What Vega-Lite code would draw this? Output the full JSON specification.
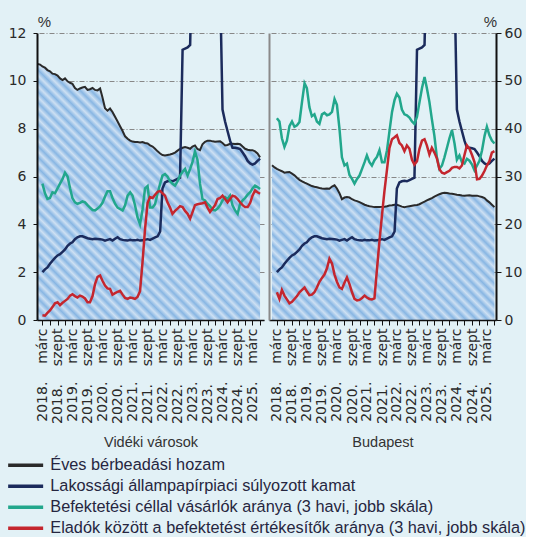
{
"$schema": "https://vega.github.io/schema/vega-lite/v6.json",
"background": "#e2f1f6",
"padding": {"left": 8, "top": 14, "right": 0, "bottom": 0},
"spacing": 0,
"config": {
  "font": "Liberation Sans",
  "view": {"stroke": null},
  "axis": {"labelColor": "#2a2a2a", "titleColor": "#333", "titleFontWeight": "normal", "tickColor": "#111", "domainColor": "#111"},
  "legend": {"labelFont": "Liberation Sans", "labelFontSize": 16.3, "labelColor": "#262640", "labelLimit": 600, "rowPadding": 4, "symbolSize": 100, "symbolStrokeWidth": 3.5, "labelOffset": 16.5, "padding": 0}
},
"datasets": {
"vid": [
{"d":"2018-01","h":10.7},{"d":"2018-02","h":10.68},
{"d":"2018-03","h":10.6,"k":2.0,"b":28.5,"e":1.0},
{"d":"2018-04","h":10.55,"k":2.12,"b":26.5,"e":0.9},
{"d":"2018-05","h":10.45,"k":2.2,"b":25.3,"e":1.5},
{"d":"2018-06","h":10.4,"k":2.35,"b":25.5,"e":2.0},
{"d":"2018-07","h":10.3,"k":2.48,"b":26.7,"e":2.7},
{"d":"2018-08","h":10.28,"k":2.6,"b":26.5,"e":3.5},
{"d":"2018-09","h":10.22,"k":2.7,"b":27.5,"e":3.7},
{"d":"2018-10","h":10.1,"k":2.75,"b":28.5,"e":3.1},
{"d":"2018-11","h":10.03,"k":2.85,"b":29.5,"e":3.6},
{"d":"2018-12","h":10.1,"k":2.95,"b":30.8,"e":4.0},
{"d":"2019-01","h":9.98,"k":3.1,"b":30,"e":4.4},
{"d":"2019-02","h":9.92,"k":3.2,"b":27.5,"e":5.1},
{"d":"2019-03","h":9.88,"k":3.25,"b":25.5,"e":5.4},
{"d":"2019-04","h":9.7,"k":3.38,"b":24.6,"e":5.0},
{"d":"2019-05","h":9.62,"k":3.46,"b":24.3,"e":4.7},
{"d":"2019-06","h":9.68,"k":3.5,"b":24.5,"e":5.1},
{"d":"2019-07","h":9.72,"k":3.5,"b":24.8,"e":4.9},
{"d":"2019-08","h":9.75,"k":3.46,"b":24.6,"e":4.5},
{"d":"2019-09","h":9.62,"k":3.42,"b":24,"e":3.7},
{"d":"2019-10","h":9.65,"k":3.4,"b":23.5,"e":3.7},
{"d":"2019-11","h":9.7,"k":3.38,"b":23,"e":5.0},
{"d":"2019-12","h":9.62,"k":3.4,"b":22.9,"e":7.5},
{"d":"2020-01","h":9.6,"k":3.39,"b":23.3,"e":9.0},
{"d":"2020-02","h":9.68,"k":3.38,"b":23.8,"e":9.3},
{"d":"2020-03","h":9.3,"k":3.36,"b":24.5,"e":8.2},
{"d":"2020-04","h":8.85,"k":3.32,"b":25.8,"e":7.2},
{"d":"2020-05","h":8.75,"k":3.35,"b":26.9,"e":6.6},
{"d":"2020-06","h":8.84,"k":3.38,"b":26.9,"e":6.5},
{"d":"2020-07","h":8.7,"k":3.32,"b":25.5,"e":5.3},
{"d":"2020-08","h":8.5,"k":3.4,"b":24.3,"e":5.6},
{"d":"2020-09","h":8.3,"k":3.46,"b":23.5,"e":5.9},
{"d":"2020-10","h":8.1,"k":3.38,"b":23.2,"e":6.1},
{"d":"2020-11","h":7.9,"k":3.35,"b":22.9,"e":5.3},
{"d":"2020-12","h":7.68,"k":3.33,"b":24,"e":4.6},
{"d":"2021-01","h":7.58,"k":3.32,"b":26,"e":4.4},
{"d":"2021-02","h":7.5,"k":3.35,"b":26.7,"e":4.7},
{"d":"2021-03","h":7.46,"k":3.33,"b":26,"e":4.6},
{"d":"2021-04","h":7.44,"k":3.33,"b":24,"e":4.4},
{"d":"2021-05","h":7.44,"k":3.35,"b":21.5,"e":4.8},
{"d":"2021-06","h":7.42,"k":3.32,"b":20,"e":6.0},
{"d":"2021-07","h":7.44,"k":3.33,"b":23,"e":12.0},
{"d":"2021-08","h":7.4,"k":3.36,"b":27.5,"e":19.0},
{"d":"2021-09","h":7.38,"k":3.38,"b":28,"e":24.5},
{"d":"2021-10","h":7.3,"k":3.35,"b":23.5,"e":25.7},
{"d":"2021-11","h":7.25,"k":3.4,"b":23.5,"e":25.5},
{"d":"2021-12","h":7.16,"k":3.45,"b":24.2,"e":26.2},
{"d":"2022-01","h":7.05,"k":3.5,"b":26.5,"e":26.8},
{"d":"2022-02","h":6.96,"k":3.7,"b":28.5,"e":27},
{"d":"2022-03","h":6.9,"k":5.5,"b":30.2,"e":26.5},
{"d":"2022-04","h":6.88,"k":5.75,"b":30.5,"e":26},
{"d":"2022-05","h":6.9,"k":5.8,"b":30,"e":24.6},
{"d":"2022-06","h":6.92,"k":5.82,"b":29,"e":23.5},
{"d":"2022-07","h":6.95,"k":5.8,"b":28.5,"e":22.2},
{"d":"2022-08","h":7.0,"k":5.85,"b":28.1,"e":22.8},
{"d":"2022-09","h":7.08,"k":5.9,"b":29,"e":23.3},
{"d":"2022-10","h":7.15,"k":5.95,"b":30.2,"e":23.8},
{"d":"2022-11","h":7.2,"k":11.3,"b":31,"e":23.6},
{"d":"2022-12","h":7.23,"k":11.35,"b":31.6,"e":22.8},
{"d":"2023-01","h":7.2,"k":11.4,"b":30.2,"e":22.2},
{"d":"2023-02","h":7.16,"k":11.5,"b":31.6,"e":21.2},
{"d":"2023-03","h":7.25,"k":16,"b":33,"e":22.5},
{"d":"2023-04","h":7.3,"k":17,"b":35.2,"e":24},
{"d":"2023-05","h":7.15,"k":18,"b":33.5,"e":24.2},
{"d":"2023-06","h":7.1,"k":19,"b":28.5,"e":24.3},
{"d":"2023-07","h":7.35,"k":19.5,"b":25.3,"e":24.4},
{"d":"2023-08","h":7.45,"k":19,"b":25,"e":24.6},
{"d":"2023-09","h":7.5,"k":18.5,"b":24.3,"e":23.5},
{"d":"2023-10","h":7.5,"k":18,"b":23.8,"e":22.6},
{"d":"2023-11","h":7.47,"k":17,"b":23,"e":23.3},
{"d":"2023-12","h":7.45,"k":16,"b":22.9,"e":24},
{"d":"2024-01","h":7.46,"k":15,"b":23.3,"e":25.3},
{"d":"2024-02","h":7.47,"k":14,"b":24,"e":25.5},
{"d":"2024-03","h":7.4,"k":8.8,"b":25,"e":26},
{"d":"2024-04","h":7.3,"k":8.3,"b":25.7,"e":25.3},
{"d":"2024-05","h":7.32,"k":7.9,"b":25.3,"e":24.6},
{"d":"2024-06","h":7.37,"k":7.5,"b":26,"e":25.3},
{"d":"2024-07","h":7.37,"k":7.2,"b":24,"e":26},
{"d":"2024-08","h":7.36,"k":7.2,"b":22.9,"e":25.8},
{"d":"2024-09","h":7.37,"k":7.18,"b":22.2,"e":25.3},
{"d":"2024-10","h":7.35,"k":7.15,"b":24.3,"e":24.6},
{"d":"2024-11","h":7.25,"k":7.0,"b":25,"e":24},
{"d":"2024-12","h":7.16,"k":6.85,"b":25.5,"e":23.6},
{"d":"2025-01","h":7.12,"k":6.65,"b":26.2,"e":23.6},
{"d":"2025-02","h":7.1,"k":6.55,"b":26.7,"e":24.5},
{"d":"2025-03","h":7.1,"k":6.5,"b":27.5,"e":26},
{"d":"2025-04","h":7.05,"k":6.55,"b":28.1,"e":27.1},
{"d":"2025-05","h":6.96,"k":6.65,"b":27.8,"e":26.7},
{"d":"2025-06","h":6.8,"k":6.75,"b":27.4,"e":26.4}
],
"bud": [
{"d":"2018-01","h":6.47},{"d":"2018-02","h":6.38},
{"d":"2018-03","h":6.32,"k":2.0,"b":42.2,"e":5.8},
{"d":"2018-04","h":6.27,"k":2.12,"b":41.5,"e":4.4},
{"d":"2018-05","h":6.22,"k":2.2,"b":38,"e":6.3},
{"d":"2018-06","h":6.16,"k":2.35,"b":36.2,"e":5.1},
{"d":"2018-07","h":6.18,"k":2.48,"b":37.5,"e":4.3},
{"d":"2018-08","h":6.19,"k":2.6,"b":40.5,"e":3.5},
{"d":"2018-09","h":6.12,"k":2.7,"b":41.5,"e":3.8},
{"d":"2018-10","h":6.05,"k":2.75,"b":40.4,"e":4.4},
{"d":"2018-11","h":5.95,"k":2.85,"b":40.7,"e":5.0},
{"d":"2018-12","h":5.86,"k":2.95,"b":41.4,"e":5.8},
{"d":"2019-01","h":5.8,"k":3.1,"b":45.6,"e":6.3},
{"d":"2019-02","h":5.74,"k":3.2,"b":49.5,"e":6.8},
{"d":"2019-03","h":5.7,"k":3.25,"b":48.5,"e":6.0},
{"d":"2019-04","h":5.65,"k":3.38,"b":44.5,"e":5.2},
{"d":"2019-05","h":5.6,"k":3.46,"b":42.6,"e":5.3},
{"d":"2019-06","h":5.57,"k":3.5,"b":43,"e":5.8},
{"d":"2019-07","h":5.55,"k":3.5,"b":41.5,"e":6.8},
{"d":"2019-08","h":5.52,"k":3.46,"b":41,"e":8.0},
{"d":"2019-09","h":5.5,"k":3.42,"b":43,"e":8.8},
{"d":"2019-10","h":5.49,"k":3.4,"b":43.3,"e":9.5},
{"d":"2019-11","h":5.5,"k":3.38,"b":42.8,"e":10.8},
{"d":"2019-12","h":5.49,"k":3.4,"b":43,"e":12.8},
{"d":"2020-01","h":5.58,"k":3.39,"b":43.5,"e":11.8},
{"d":"2020-02","h":5.63,"k":3.38,"b":46.2,"e":9.5},
{"d":"2020-03","h":5.5,"k":3.36,"b":45,"e":8.0},
{"d":"2020-04","h":5.3,"k":3.32,"b":40,"e":6.8},
{"d":"2020-05","h":5.05,"k":3.35,"b":34,"e":6.5},
{"d":"2020-06","h":5.12,"k":3.38,"b":32.3,"e":7.8},
{"d":"2020-07","h":5.14,"k":3.32,"b":32.7,"e":8.9},
{"d":"2020-08","h":5.12,"k":3.4,"b":30.3,"e":7.5},
{"d":"2020-09","h":5.05,"k":3.46,"b":29.5,"e":5.8},
{"d":"2020-10","h":5.0,"k":3.38,"b":28.5,"e":4.4},
{"d":"2020-11","h":4.97,"k":3.35,"b":29.5,"e":4.1},
{"d":"2020-12","h":4.93,"k":3.33,"b":30.2,"e":4.2},
{"d":"2021-01","h":4.88,"k":3.32,"b":31.6,"e":4.6},
{"d":"2021-02","h":4.82,"k":3.35,"b":33,"e":5.1},
{"d":"2021-03","h":4.79,"k":3.33,"b":34.4,"e":4.7},
{"d":"2021-04","h":4.76,"k":3.33,"b":33,"e":4.4},
{"d":"2021-05","h":4.74,"k":3.35,"b":32.3,"e":4.3},
{"d":"2021-06","h":4.72,"k":3.32,"b":33.4,"e":4.5},
{"d":"2021-07","h":4.72,"k":3.33,"b":34.1,"e":10.5},
{"d":"2021-08","h":4.72,"k":3.36,"b":35.5,"e":16.5},
{"d":"2021-09","h":4.73,"k":3.38,"b":33,"e":22},
{"d":"2021-10","h":4.74,"k":3.35,"b":33,"e":27},
{"d":"2021-11","h":4.76,"k":3.4,"b":35.5,"e":31.5},
{"d":"2021-12","h":4.79,"k":3.45,"b":39.5,"e":36},
{"d":"2022-01","h":4.8,"k":3.5,"b":43.5,"e":37.8},
{"d":"2022-02","h":4.82,"k":3.7,"b":46,"e":38.2},
{"d":"2022-03","h":4.82,"k":5.5,"b":47.3,"e":38.6},
{"d":"2022-04","h":4.78,"k":5.75,"b":46.5,"e":37},
{"d":"2022-05","h":4.74,"k":5.8,"b":44,"e":36.5},
{"d":"2022-06","h":4.72,"k":5.82,"b":43,"e":35.3},
{"d":"2022-07","h":4.74,"k":5.8,"b":42.8,"e":36.5},
{"d":"2022-08","h":4.76,"k":5.85,"b":42.3,"e":35.8},
{"d":"2022-09","h":4.78,"k":5.9,"b":41.5,"e":33.5},
{"d":"2022-10","h":4.8,"k":5.95,"b":41,"e":32.5},
{"d":"2022-11","h":4.81,"k":11.3,"b":42.5,"e":33.2},
{"d":"2022-12","h":4.84,"k":11.35,"b":45.5,"e":35.8},
{"d":"2023-01","h":4.9,"k":11.4,"b":48.5,"e":37.5},
{"d":"2023-02","h":4.95,"k":11.5,"b":50.8,"e":37.8},
{"d":"2023-03","h":5.0,"k":16,"b":48.5,"e":36.5},
{"d":"2023-04","h":5.05,"k":17,"b":45.6,"e":34.6},
{"d":"2023-05","h":5.1,"k":18,"b":42,"e":36},
{"d":"2023-06","h":5.16,"k":19,"b":38.5,"e":35},
{"d":"2023-07","h":5.21,"k":19.5,"b":34,"e":33.8},
{"d":"2023-08","h":5.26,"k":19,"b":31.6,"e":31.5},
{"d":"2023-09","h":5.3,"k":18.5,"b":32.3,"e":30.8},
{"d":"2023-10","h":5.32,"k":18,"b":34,"e":30.6},
{"d":"2023-11","h":5.31,"k":17,"b":36,"e":30.9},
{"d":"2023-12","h":5.29,"k":16,"b":38,"e":31.2},
{"d":"2024-01","h":5.28,"k":15,"b":39.7,"e":31.8},
{"d":"2024-02","h":5.26,"k":14,"b":36.9,"e":32},
{"d":"2024-03","h":5.24,"k":8.8,"b":33.5,"e":32},
{"d":"2024-04","h":5.23,"k":8.3,"b":34.4,"e":31.7},
{"d":"2024-05","h":5.21,"k":7.9,"b":33,"e":32.3},
{"d":"2024-06","h":5.2,"k":7.5,"b":32.7,"e":34.5},
{"d":"2024-07","h":5.21,"k":7.2,"b":33.7,"e":36.5},
{"d":"2024-08","h":5.22,"k":7.2,"b":33.3,"e":35.8},
{"d":"2024-09","h":5.2,"k":7.18,"b":32.5,"e":34.5},
{"d":"2024-10","h":5.2,"k":7.15,"b":31.3,"e":33},
{"d":"2024-11","h":5.2,"k":7.0,"b":32.3,"e":29.4},
{"d":"2024-12","h":5.17,"k":6.85,"b":33.3,"e":29.5},
{"d":"2025-01","h":5.14,"k":6.65,"b":35.5,"e":30.2},
{"d":"2025-02","h":5.1,"k":6.55,"b":38.5,"e":31.2},
{"d":"2025-03","h":5.0,"k":6.5,"b":40.4,"e":32.3},
{"d":"2025-04","h":4.92,"k":6.55,"b":38.6,"e":33.2},
{"d":"2025-05","h":4.82,"k":6.65,"b":37.5,"e":35},
{"d":"2025-06","h":4.72,"k":6.75,"b":36.9,"e":35.3}
]
},
"hconcat": [
{
  "width": 227, "height": 287,
  "data": {"name": "vid"},
  "encoding": {"x": {"field": "d", "type": "temporal",
    "scale": {"type": "utc", "domain": [{"year":2017,"month":12,"date":25,"utc":true},{"year":2025,"month":7,"date":19,"utc":true}]},
    "axis": {"values": [{"year":2018,"month":3,"date":1,"utc":true},{"year":2018,"month":6,"date":1,"utc":true},{"year":2018,"month":9,"date":1,"utc":true},{"year":2018,"month":12,"date":1,"utc":true},{"year":2019,"month":3,"date":1,"utc":true},{"year":2019,"month":6,"date":1,"utc":true},{"year":2019,"month":9,"date":1,"utc":true},{"year":2019,"month":12,"date":1,"utc":true},{"year":2020,"month":3,"date":1,"utc":true},{"year":2020,"month":6,"date":1,"utc":true},{"year":2020,"month":9,"date":1,"utc":true},{"year":2020,"month":12,"date":1,"utc":true},{"year":2021,"month":3,"date":1,"utc":true},{"year":2021,"month":6,"date":1,"utc":true},{"year":2021,"month":9,"date":1,"utc":true},{"year":2021,"month":12,"date":1,"utc":true},{"year":2022,"month":3,"date":1,"utc":true},{"year":2022,"month":6,"date":1,"utc":true},{"year":2022,"month":9,"date":1,"utc":true},{"year":2022,"month":12,"date":1,"utc":true},{"year":2023,"month":3,"date":1,"utc":true},{"year":2023,"month":6,"date":1,"utc":true},{"year":2023,"month":9,"date":1,"utc":true},{"year":2023,"month":12,"date":1,"utc":true},{"year":2024,"month":3,"date":1,"utc":true},{"year":2024,"month":6,"date":1,"utc":true},{"year":2024,"month":9,"date":1,"utc":true},{"year":2024,"month":12,"date":1,"utc":true},{"year":2025,"month":3,"date":1,"utc":true},{"year":2025,"month":6,"date":1,"utc":true}],
      "labelExpr": "utcFormat(datum.value,'%m')=='03' ? utcFormat(datum.value,'%Y')+'.\u00a0\u00a0\u00a0\u00a0márc' : (utcFormat(datum.value,'%m')=='09' ? utcFormat(datum.value,'%Y')+'.\u00a0\u00a0\u00a0\u00a0szept' : '')",
      "labelAngle": 270, "labelFont": "DejaVu Sans", "labelFontSize": 14, "labelPadding": 3, "labelOverlap": false, "labelFlush": false, "labelBound": false,
      "tickSize": 5, "domainWidth": 1.5, "grid": false,
      "title": "Vidéki városok", "titlePadding": 12, "titleFontSize": 14.5, "zindex": 1}}},
  "layer": [
      {"mark": {"type": "area", "opacity": 1, "color": {"gradient": "linear", "x1": 0, "y1": 1, "x2": 0.927, "y2": -0.064, "stops": [
{"offset":0,"color":"#88b6e3"},{"offset":0.0114,"color":"#cde0f3"},{"offset":0.0227,"color":"#88b6e3"},{"offset":0.0341,"color":"#cde0f3"},{"offset":0.0455,"color":"#88b6e3"},{"offset":0.0568,"color":"#cde0f3"},{"offset":0.0682,"color":"#88b6e3"},{"offset":0.0795,"color":"#cde0f3"},{"offset":0.0909,"color":"#88b6e3"},{"offset":0.1023,"color":"#cde0f3"},{"offset":0.1136,"color":"#88b6e3"},{"offset":0.125,"color":"#cde0f3"},{"offset":0.1364,"color":"#88b6e3"},{"offset":0.1477,"color":"#cde0f3"},{"offset":0.1591,"color":"#88b6e3"},{"offset":0.1705,"color":"#cde0f3"},{"offset":0.1818,"color":"#88b6e3"},{"offset":0.1932,"color":"#cde0f3"},{"offset":0.2045,"color":"#88b6e3"},{"offset":0.2159,"color":"#cde0f3"},{"offset":0.2273,"color":"#88b6e3"},{"offset":0.2386,"color":"#cde0f3"},{"offset":0.25,"color":"#88b6e3"},{"offset":0.2614,"color":"#cde0f3"},{"offset":0.2727,"color":"#88b6e3"},{"offset":0.2841,"color":"#cde0f3"},{"offset":0.2955,"color":"#88b6e3"},{"offset":0.3068,"color":"#cde0f3"},{"offset":0.3182,"color":"#88b6e3"},{"offset":0.3295,"color":"#cde0f3"},{"offset":0.3409,"color":"#88b6e3"},{"offset":0.3523,"color":"#cde0f3"},{"offset":0.3636,"color":"#88b6e3"},{"offset":0.375,"color":"#cde0f3"},{"offset":0.3864,"color":"#88b6e3"},{"offset":0.3977,"color":"#cde0f3"},{"offset":0.4091,"color":"#88b6e3"},{"offset":0.4205,"color":"#cde0f3"},{"offset":0.4318,"color":"#88b6e3"},{"offset":0.4432,"color":"#cde0f3"},{"offset":0.4545,"color":"#88b6e3"},{"offset":0.4659,"color":"#cde0f3"},{"offset":0.4773,"color":"#88b6e3"},{"offset":0.4886,"color":"#cde0f3"},{"offset":0.5,"color":"#88b6e3"},{"offset":0.5114,"color":"#cde0f3"},{"offset":0.5227,"color":"#88b6e3"},{"offset":0.5341,"color":"#cde0f3"},{"offset":0.5455,"color":"#88b6e3"},{"offset":0.5568,"color":"#cde0f3"},{"offset":0.5682,"color":"#88b6e3"},{"offset":0.5795,"color":"#cde0f3"},{"offset":0.5909,"color":"#88b6e3"},{"offset":0.6023,"color":"#cde0f3"},{"offset":0.6136,"color":"#88b6e3"},{"offset":0.625,"color":"#cde0f3"},{"offset":0.6364,"color":"#88b6e3"},{"offset":0.6477,"color":"#cde0f3"},{"offset":0.6591,"color":"#88b6e3"},{"offset":0.6705,"color":"#cde0f3"},{"offset":0.6818,"color":"#88b6e3"},{"offset":0.6932,"color":"#cde0f3"},{"offset":0.7045,"color":"#88b6e3"},{"offset":0.7159,"color":"#cde0f3"},{"offset":0.7273,"color":"#88b6e3"},{"offset":0.7386,"color":"#cde0f3"},{"offset":0.75,"color":"#88b6e3"},{"offset":0.7614,"color":"#cde0f3"},{"offset":0.7727,"color":"#88b6e3"},{"offset":0.7841,"color":"#cde0f3"},{"offset":0.7955,"color":"#88b6e3"},{"offset":0.8068,"color":"#cde0f3"},{"offset":0.8182,"color":"#88b6e3"},{"offset":0.8295,"color":"#cde0f3"},{"offset":0.8409,"color":"#88b6e3"},{"offset":0.8523,"color":"#cde0f3"},{"offset":0.8636,"color":"#88b6e3"},{"offset":0.875,"color":"#cde0f3"},{"offset":0.8864,"color":"#88b6e3"},{"offset":0.8977,"color":"#cde0f3"},{"offset":0.9091,"color":"#88b6e3"},{"offset":0.9205,"color":"#cde0f3"},{"offset":0.9318,"color":"#88b6e3"},{"offset":0.9432,"color":"#cde0f3"},{"offset":0.9545,"color":"#88b6e3"},{"offset":0.9659,"color":"#cde0f3"},{"offset":0.9773,"color":"#88b6e3"},{"offset":0.9886,"color":"#cde0f3"},{"offset":1,"color":"#88b6e3"}]}},
       "encoding": {"y": {"field": "h", "type": "quantitative", "scale": {"domain": [0, 12], "nice": false},
         "axis": {"orient": "left", "values": [0,2,4,6,8,10,12], "title": "%", "titleAngle": 0, "titleX": 7, "titleY": -7, "titleAlign": "center", "titleBaseline": "alphabetic", "titleFontSize": 15,
           "grid": false, "domainWidth": 2, "tickSize": 4, "labelPadding": 7, "labelFont": "DejaVu Sans", "labelFontSize": 14, "zindex": 1}}}},
      {"mark": {"type": "line", "strokeWidth": 2},
       "encoding": {"y": {"field": "h", "type": "quantitative", "scale": {"domain": [0, 12], "nice": false}, "axis": null},
         "color": {"datum": "Éves bérbeadási hozam", "type": "nominal",
           "scale": {"domain": ["Éves bérbeadási hozam", "Lakossági állampapírpiaci súlyozott kamat", "Befektetési céllal vásárlók aránya (3 havi, jobb skála)", "Eladók között a befektetést értékesítők aránya (3 havi, jobb skála)"], "range": ["#2a2a2a", "#1b2b5c", "#22a78c", "#c4262e"]},
           "legend": {"title": null, "orient": "none", "legendX": -19.5, "legendY": 424, "direction": "vertical",
             "encode": {"symbols": {"update": {
               "shape": {"condition": {"test": "datum.index === 0", "value": "M-3.5,-0.9H3.5V0.9H-3.5Z"}, "value": "M-3.5,0H3.5"},
               "fill": {"condition": {"test": "datum.index === 0", "value": "#b9d3ee"}, "value": "transparent"},
               "strokeWidth": {"condition": {"test": "datum.index === 0", "value": 2}, "value": 3.5}}}}}}}},
      {"mark": {"type": "line", "strokeWidth": 2.5, "clip": true},
       "encoding": {"y": {"field": "k", "type": "quantitative", "scale": {"domain": [0, 12], "nice": false}, "axis": null},
         "color": {"datum": "Lakossági állampapírpiaci súlyozott kamat", "type": "nominal"}}},
      {"mark": {"type": "line", "strokeWidth": 2.5},
       "encoding": {"y": {"field": "b", "type": "quantitative", "scale": {"domain": [0, 60], "nice": false},
         "axis": {"orient": "right", "values": [0,10,20,30,40,50,60], "labels": false, "ticks": false, "domain": false, "title": null,
           "grid": true, "gridColor": "#888", "gridDash": [5,2,1,2], "gridWidth": 1, "zindex": 0}},
         "color": {"datum": "Befektetési céllal vásárlók aránya (3 havi, jobb skála)", "type": "nominal"}}},
      {"mark": {"type": "line", "strokeWidth": 2.5},
       "encoding": {"y": {"field": "e", "type": "quantitative", "scale": {"domain": [0, 60], "nice": false}, "axis": null},
         "color": {"datum": "Eladók között a befektetést értékesítők aránya (3 havi, jobb skála)", "type": "nominal"}}}
  ],
  "resolve": {"scale": {"y": "independent"}, "axis": {"y": "independent"}}
},
{
  "width": 227, "height": 287,
  "data": {"name": "bud"},
  "encoding": {"x": {"field": "d", "type": "temporal",
    "scale": {"type": "utc", "domain": [{"year":2017,"month":11,"date":25,"utc":true},{"year":2025,"month":6,"date":20,"utc":true}]},
    "axis": {"values": [{"year":2018,"month":3,"date":1,"utc":true},{"year":2018,"month":6,"date":1,"utc":true},{"year":2018,"month":9,"date":1,"utc":true},{"year":2018,"month":12,"date":1,"utc":true},{"year":2019,"month":3,"date":1,"utc":true},{"year":2019,"month":6,"date":1,"utc":true},{"year":2019,"month":9,"date":1,"utc":true},{"year":2019,"month":12,"date":1,"utc":true},{"year":2020,"month":3,"date":1,"utc":true},{"year":2020,"month":6,"date":1,"utc":true},{"year":2020,"month":9,"date":1,"utc":true},{"year":2020,"month":12,"date":1,"utc":true},{"year":2021,"month":3,"date":1,"utc":true},{"year":2021,"month":6,"date":1,"utc":true},{"year":2021,"month":9,"date":1,"utc":true},{"year":2021,"month":12,"date":1,"utc":true},{"year":2022,"month":3,"date":1,"utc":true},{"year":2022,"month":6,"date":1,"utc":true},{"year":2022,"month":9,"date":1,"utc":true},{"year":2022,"month":12,"date":1,"utc":true},{"year":2023,"month":3,"date":1,"utc":true},{"year":2023,"month":6,"date":1,"utc":true},{"year":2023,"month":9,"date":1,"utc":true},{"year":2023,"month":12,"date":1,"utc":true},{"year":2024,"month":3,"date":1,"utc":true},{"year":2024,"month":6,"date":1,"utc":true},{"year":2024,"month":9,"date":1,"utc":true},{"year":2024,"month":12,"date":1,"utc":true},{"year":2025,"month":3,"date":1,"utc":true},{"year":2025,"month":6,"date":1,"utc":true}],
      "labelExpr": "utcFormat(datum.value,'%m')=='03' ? utcFormat(datum.value,'%Y')+'.\u00a0\u00a0\u00a0\u00a0márc' : (utcFormat(datum.value,'%m')=='09' ? utcFormat(datum.value,'%Y')+'.\u00a0\u00a0\u00a0\u00a0szept' : '')",
      "labelAngle": 270, "labelFont": "DejaVu Sans", "labelFontSize": 14, "labelPadding": 3, "labelOverlap": false, "labelFlush": false, "labelBound": false,
      "tickSize": 5, "domainWidth": 1.5, "grid": false,
      "title": "Budapest", "titlePadding": 12, "titleFontSize": 14.5, "zindex": 1}}},
  "layer": [
      {"mark": {"type": "area", "opacity": 1, "color": {"gradient": "linear", "x1": 0, "y1": 1, "x2": 1.143, "y2": 0.204, "stops": [
{"offset":0,"color":"#88b6e3"},{"offset":0.0143,"color":"#cde0f3"},{"offset":0.0286,"color":"#88b6e3"},{"offset":0.0429,"color":"#cde0f3"},{"offset":0.0571,"color":"#88b6e3"},{"offset":0.0714,"color":"#cde0f3"},{"offset":0.0857,"color":"#88b6e3"},{"offset":0.1,"color":"#cde0f3"},{"offset":0.1143,"color":"#88b6e3"},{"offset":0.1286,"color":"#cde0f3"},{"offset":0.1429,"color":"#88b6e3"},{"offset":0.1571,"color":"#cde0f3"},{"offset":0.1714,"color":"#88b6e3"},{"offset":0.1857,"color":"#cde0f3"},{"offset":0.2,"color":"#88b6e3"},{"offset":0.2143,"color":"#cde0f3"},{"offset":0.2286,"color":"#88b6e3"},{"offset":0.2429,"color":"#cde0f3"},{"offset":0.2571,"color":"#88b6e3"},{"offset":0.2714,"color":"#cde0f3"},{"offset":0.2857,"color":"#88b6e3"},{"offset":0.3,"color":"#cde0f3"},{"offset":0.3143,"color":"#88b6e3"},{"offset":0.3286,"color":"#cde0f3"},{"offset":0.3429,"color":"#88b6e3"},{"offset":0.3571,"color":"#cde0f3"},{"offset":0.3714,"color":"#88b6e3"},{"offset":0.3857,"color":"#cde0f3"},{"offset":0.4,"color":"#88b6e3"},{"offset":0.4143,"color":"#cde0f3"},{"offset":0.4286,"color":"#88b6e3"},{"offset":0.4429,"color":"#cde0f3"},{"offset":0.4571,"color":"#88b6e3"},{"offset":0.4714,"color":"#cde0f3"},{"offset":0.4857,"color":"#88b6e3"},{"offset":0.5,"color":"#cde0f3"},{"offset":0.5143,"color":"#88b6e3"},{"offset":0.5286,"color":"#cde0f3"},{"offset":0.5429,"color":"#88b6e3"},{"offset":0.5571,"color":"#cde0f3"},{"offset":0.5714,"color":"#88b6e3"},{"offset":0.5857,"color":"#cde0f3"},{"offset":0.6,"color":"#88b6e3"},{"offset":0.6143,"color":"#cde0f3"},{"offset":0.6286,"color":"#88b6e3"},{"offset":0.6429,"color":"#cde0f3"},{"offset":0.6571,"color":"#88b6e3"},{"offset":0.6714,"color":"#cde0f3"},{"offset":0.6857,"color":"#88b6e3"},{"offset":0.7,"color":"#cde0f3"},{"offset":0.7143,"color":"#88b6e3"},{"offset":0.7286,"color":"#cde0f3"},{"offset":0.7429,"color":"#88b6e3"},{"offset":0.7571,"color":"#cde0f3"},{"offset":0.7714,"color":"#88b6e3"},{"offset":0.7857,"color":"#cde0f3"},{"offset":0.8,"color":"#88b6e3"},{"offset":0.8143,"color":"#cde0f3"},{"offset":0.8286,"color":"#88b6e3"},{"offset":0.8429,"color":"#cde0f3"},{"offset":0.8571,"color":"#88b6e3"},{"offset":0.8714,"color":"#cde0f3"},{"offset":0.8857,"color":"#88b6e3"},{"offset":0.9,"color":"#cde0f3"},{"offset":0.9143,"color":"#88b6e3"},{"offset":0.9286,"color":"#cde0f3"},{"offset":0.9429,"color":"#88b6e3"},{"offset":0.9571,"color":"#cde0f3"},{"offset":0.9714,"color":"#88b6e3"},{"offset":0.9857,"color":"#cde0f3"},{"offset":1,"color":"#88b6e3"}]}},
       "encoding": {"y": {"field": "h", "type": "quantitative", "scale": {"domain": [0, 12], "nice": false},
         "axis": {"orient": "left", "labels": false, "ticks": false, "grid": false, "title": null, "domainColor": "#8a8a8a", "domainWidth": 2, "zindex": 1}}}},
      {"mark": {"type": "line", "strokeWidth": 2},
       "encoding": {"y": {"field": "h", "type": "quantitative", "scale": {"domain": [0, 12], "nice": false}, "axis": null},
         "color": {"datum": "Éves bérbeadási hozam", "type": "nominal"}}},
      {"mark": {"type": "line", "strokeWidth": 2.5, "clip": true},
       "encoding": {"y": {"field": "k", "type": "quantitative", "scale": {"domain": [0, 12], "nice": false}, "axis": null},
         "color": {"datum": "Lakossági állampapírpiaci súlyozott kamat", "type": "nominal"}}},
      {"mark": {"type": "line", "strokeWidth": 2.5},
       "encoding": {"y": {"field": "b", "type": "quantitative", "scale": {"domain": [0, 60], "nice": false},
         "axis": {"orient": "right", "values": [0,10,20,30,40,50,60], "title": "%", "titleAngle": 0, "titleX": -6, "titleY": -7, "titleAlign": "center", "titleBaseline": "alphabetic", "titleFontSize": 15,
           "grid": true, "gridColor": "#888", "gridDash": [5,2,1,2], "gridWidth": 1, "domainWidth": 2, "tickSize": 5, "labelPadding": 3, "labelFont": "DejaVu Sans", "labelFontSize": 14, "zindex": 0}},
         "color": {"datum": "Befektetési céllal vásárlók aránya (3 havi, jobb skála)", "type": "nominal"}}},
      {"mark": {"type": "line", "strokeWidth": 2.5},
       "encoding": {"y": {"field": "e", "type": "quantitative", "scale": {"domain": [0, 60], "nice": false}, "axis": null},
         "color": {"datum": "Eladók között a befektetést értékesítők aránya (3 havi, jobb skála)", "type": "nominal"}}}
  ],
  "resolve": {"scale": {"y": "independent"}, "axis": {"y": "independent"}}
}
],
"resolve": {"scale": {"color": "shared"}, "legend": {"color": "shared"}}
}
